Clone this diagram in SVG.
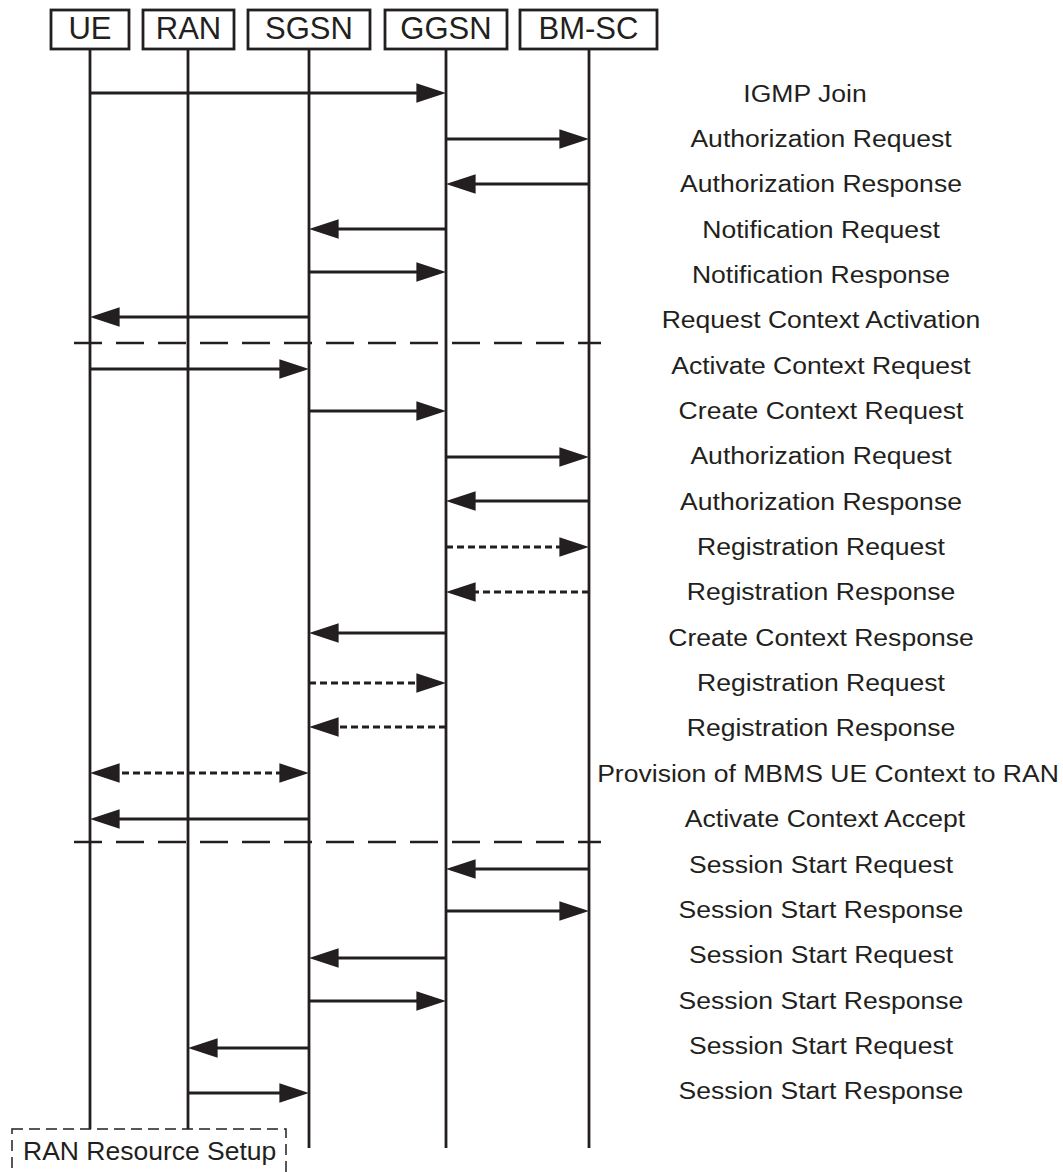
<svg xmlns="http://www.w3.org/2000/svg" width="1063" height="1172" viewBox="0 0 1063 1172">
<style>
.box{fill:#fff;stroke:#231f20;stroke-width:2.8}
.hdr{font-family:"Liberation Sans",Arial,sans-serif;font-size:31px;fill:#231f20;text-anchor:middle}
.life{stroke:#231f20;stroke-width:2.8;fill:none}
.msg{stroke:#231f20;stroke-width:3;fill:none}
.dsh{stroke:#231f20;stroke-width:3;fill:none;stroke-dasharray:7 4}
.sep{stroke:#231f20;stroke-width:2.6;fill:none;stroke-dasharray:28 14}
.lbl{font-family:"Liberation Sans",Arial,sans-serif;font-size:23.5px;fill:#231f20;text-anchor:middle}
.note{fill:#fff;stroke:#231f20;stroke-width:1.5;stroke-dasharray:11 6}
.ntxt{font-family:"Liberation Sans",Arial,sans-serif;font-size:26.5px;fill:#231f20}
</style>
<defs>
<marker id="ah" markerUnits="userSpaceOnUse" markerWidth="30" markerHeight="20" viewBox="0 0 29 19" refX="19" refY="9.5" orient="auto-start-reverse">
<path d="M0,0 L29,9.5 L0,19 z" fill="#231f20"/>
</marker>
</defs>
<g id="n-ue"><rect class="box" x="51" y="10" width="78" height="39"/><text class="hdr" x="90" y="39">UE</text><line class="life" x1="90" y1="49" x2="90" y2="1129"/></g>
<g id="n-ran"><rect class="box" x="143" y="10" width="91" height="39"/><text class="hdr" x="188.5" y="39">RAN</text><line class="life" x1="188" y1="49" x2="188" y2="1129"/></g>
<g id="n-sgsn"><rect class="box" x="248" y="10" width="122" height="39"/><text class="hdr" x="309" y="39">SGSN</text><line class="life" x1="309" y1="49" x2="309" y2="1148"/></g>
<g id="n-ggsn"><rect class="box" x="385" y="10" width="122" height="39"/><text class="hdr" x="446" y="39">GGSN</text><line class="life" x1="446" y1="49" x2="446" y2="1148"/></g>
<g id="n-bmsc"><rect class="box" x="520" y="10" width="137" height="39"/><text class="hdr" x="588.5" y="39">BM-SC</text><line class="life" x1="589" y1="49" x2="589" y2="1148"/></g>
<g id="n-ranres"><rect class="note" x="12" y="1129" width="274" height="60"/><text class="ntxt" x="23" y="1160">RAN Resource Setup</text></g>
<g id="connectors" marker-end="url(#ah)">
<line class="msg" x1="90" y1="93" x2="436" y2="93"/>
<line class="msg" x1="446" y1="139" x2="579" y2="139"/>
<line class="msg" x1="589" y1="184" x2="456" y2="184"/>
<line class="msg" x1="446" y1="229" x2="319" y2="229"/>
<line class="msg" x1="309" y1="272" x2="436" y2="272"/>
<line class="msg" x1="309" y1="317" x2="100" y2="317"/>
<line class="sep" x1="74" y1="343" x2="601" y2="343" marker-end="none"/>
<line class="msg" x1="90" y1="369" x2="299" y2="369"/>
<line class="msg" x1="309" y1="411" x2="436" y2="411"/>
<line class="msg" x1="446" y1="457" x2="579" y2="457"/>
<line class="msg" x1="589" y1="501" x2="456" y2="501"/>
<line class="dsh" x1="446" y1="547" x2="579" y2="547"/>
<line class="dsh" x1="589" y1="592" x2="456" y2="592"/>
<line class="msg" x1="446" y1="633" x2="319" y2="633"/>
<line class="dsh" x1="309" y1="683" x2="436" y2="683"/>
<line class="dsh" x1="446" y1="727" x2="319" y2="727"/>
<line class="dsh" x1="100" y1="773" x2="299" y2="773" marker-start="url(#ah)"/>
<line class="msg" x1="309" y1="819" x2="100" y2="819"/>
<line class="sep" x1="74" y1="842" x2="601" y2="842" marker-end="none"/>
<line class="msg" x1="589" y1="869" x2="456" y2="869"/>
<line class="msg" x1="446" y1="911" x2="579" y2="911"/>
<line class="msg" x1="446" y1="958" x2="319" y2="958"/>
<line class="msg" x1="309" y1="1001" x2="436" y2="1001"/>
<line class="msg" x1="309" y1="1048" x2="198" y2="1048"/>
<line class="msg" x1="188" y1="1093" x2="299" y2="1093"/>
</g>
<g id="labels">
<text class="lbl" transform="translate(805 101.5) scale(1.13 1)">IGMP Join</text>
<text class="lbl" transform="translate(821 146.9) scale(1.13 1)">Authorization Request</text>
<text class="lbl" transform="translate(821 192.2) scale(1.13 1)">Authorization Response</text>
<text class="lbl" transform="translate(821 237.6) scale(1.13 1)">Notification Request</text>
<text class="lbl" transform="translate(821 282.9) scale(1.13 1)">Notification Response</text>
<text class="lbl" transform="translate(821 328.3) scale(1.13 1)">Request Context Activation</text>
<text class="lbl" transform="translate(821 373.6) scale(1.13 1)">Activate Context Request</text>
<text class="lbl" transform="translate(821 419) scale(1.13 1)">Create Context Request</text>
<text class="lbl" transform="translate(821 464.3) scale(1.13 1)">Authorization Request</text>
<text class="lbl" transform="translate(821 509.7) scale(1.13 1)">Authorization Response</text>
<text class="lbl" transform="translate(821 555) scale(1.13 1)">Registration Request</text>
<text class="lbl" transform="translate(821 600.4) scale(1.13 1)">Registration Response</text>
<text class="lbl" transform="translate(821 645.7) scale(1.13 1)">Create Context Response</text>
<text class="lbl" transform="translate(821 691.1) scale(1.13 1)">Registration Request</text>
<text class="lbl" transform="translate(821 736.4) scale(1.13 1)">Registration Response</text>
<text class="lbl" transform="translate(828 781.8) scale(1.13 1)">Provision of MBMS UE Context to RAN</text>
<text class="lbl" transform="translate(825 827.1) scale(1.13 1)">Activate Context Accept</text>
<text class="lbl" transform="translate(821 872.5) scale(1.13 1)">Session Start Request</text>
<text class="lbl" transform="translate(821 917.8) scale(1.13 1)">Session Start Response</text>
<text class="lbl" transform="translate(821 963.2) scale(1.13 1)">Session Start Request</text>
<text class="lbl" transform="translate(821 1008.5) scale(1.13 1)">Session Start Response</text>
<text class="lbl" transform="translate(821 1053.9) scale(1.13 1)">Session Start Request</text>
<text class="lbl" transform="translate(821 1099.2) scale(1.13 1)">Session Start Response</text>
</g>
</svg>
